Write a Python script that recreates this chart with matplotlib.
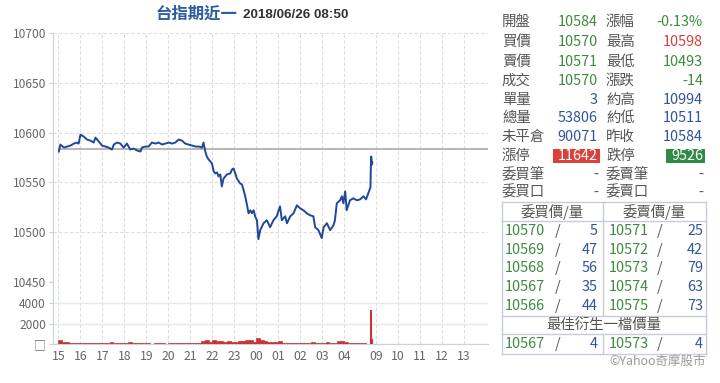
import matplotlib
matplotlib.use("Agg")
import matplotlib.pyplot as plt
from matplotlib.patches import Rectangle

plt.rcParams['font.family'] = ['Noto Sans CJK TC', 'DejaVu Sans']

# ---------------- data ----------------
title_name = "台指期近一"
title_time = "2018/06/26 08:50"
prev_close = 10584

night_times = ["15:01", "15:05", "15:15", "15:24", "15:33", "15:42", "15:51", "15:55", "16:00", "16:09",
               "16:18", "16:27", "16:36", "16:41", "16:50", "16:59", "17:08", "17:17", "17:26", "17:31",
               "17:40", "17:49", "17:58", "18:07", "18:16", "18:25", "18:35", "18:44", "18:48", "18:57",
               "19:06", "19:15", "19:25", "19:34", "19:43", "19:52", "20:01", "20:10", "20:19", "20:28",
               "20:37", "20:46", "20:55", "21:05", "21:14", "21:23", "21:32", "21:36", "21:41", "21:45",
               "21:50", "21:55", "21:59", "22:04", "22:08", "22:13", "22:17", "22:22", "22:26", "22:31",
               "22:40", "22:49", "22:54", "22:58", "23:03", "23:07", "23:16", "23:21", "23:25", "23:30",
               "23:35", "23:39", "23:44", "23:48", "23:53", "23:57", "00:02", "00:06", "00:11", "00:20",
               "00:29", "00:38", "00:47", "00:56", "01:05", "01:10", "01:19", "01:24", "01:33", "01:42",
               "01:51", "02:00", "02:09", "02:18", "02:27", "02:36", "02:41", "02:50", "02:59", "03:04",
               "03:13", "03:22", "03:31", "03:35", "03:40", "03:49", "03:54", "03:58", "04:03", "04:07",
               "04:16", "04:25", "04:35", "04:44", "04:53", "05:00"]
night_prices = [10581, 10588, 10585, 10586, 10587, 10589, 10590, 10589, 10598, 10596,
                10593, 10592, 10590, 10595, 10591, 10587, 10586, 10585, 10583, 10588,
                10590, 10589, 10585, 10589, 10583, 10584, 10582, 10581, 10585, 10586,
                10586, 10590, 10589, 10590, 10588, 10589, 10590, 10589, 10590, 10593,
                10592, 10589, 10588, 10587, 10586, 10586, 10585, 10590, 10581, 10576,
                10573, 10571, 10569, 10561, 10559, 10560, 10556, 10558, 10546, 10554,
                10558, 10559, 10563, 10564, 10559, 10554, 10549, 10548, 10543, 10536,
                10527, 10519, 10522, 10519, 10522, 10516, 10512, 10493, 10502, 10509,
                10512, 10505, 10512, 10516, 10526, 10512, 10516, 10509, 10516, 10519,
                10527, 10524, 10522, 10519, 10517, 10516, 10505, 10502, 10494, 10505,
                10509, 10502, 10507, 10512, 10529, 10532, 10536, 10529, 10541, 10522,
                10532, 10534, 10532, 10533, 10536, 10533]
day_times = ["08:45", "08:46", "08:47", "08:48", "08:49", "08:50"]
day_prices = [10545, 10565, 10576, 10572, 10568, 10570]

# volume: night session in 10-minute buckets (15:00 .. 04:50), day session per minute
night_vol = [400, 200, 150, 100, 100, 100,
             100, 100, 100, 100, 100, 100,
             100, 100, 150, 100, 100, 100,
             100, 150, 100, 100, 100, 80,
             80, 0, 100, 80, 100, 0,
             100, 80, 100, 100, 80, 100,
             100, 100, 100, 250, 350, 200,
             400, 300, 250, 200, 250, 150,
             200, 250, 300, 400, 350, 200,
             600, 350, 250, 200, 150, 200,
             250, 100, 100, 100, 100, 100,
             100, 100, 100, 150, 100, 100,
             100, 150, 100, 100, 250, 300,
             150, 100, 80, 100, 80, 100]
day_vol_times = ["08:45", "08:46", "08:47", "08:48", "08:49"]
day_vol = [3300, 900, 500, 300, 200]

x_tick_labels = ["15", "16", "17", "18", "19", "20", "21", "22", "23", "00", "01", "02", "03", "04",
                 "09", "10", "11", "12", "13"]
price_ticks = [10450, 10500, 10550, 10600, 10650, 10700]
vol_ticks = [0, 2000, 4000]
vol_tick_labels = ["□", "2000", "4000"]

info_rows = [("開盤", "10584", "g", "漲幅", "-0.13%", "g"),
             ("買價", "10570", "g", "最高", "10598", "r"),
             ("賣價", "10571", "g", "最低", "10493", "g"),
             ("成交", "10570", "g", "漲跌", "-14", "g"),
             ("單量", "3", "b", "約高", "10994", "b"),
             ("總量", "53806", "b", "約低", "10511", "b"),
             ("未平倉", "90071", "b", "昨收", "10584", "b"),
             ("漲停", "11642", "R", "跌停", "9526", "G"),
             ("委買筆", "-", "k", "委賣筆", "-", "k"),
             ("委買口", "-", "k", "委賣口", "-", "k")]
bid_prices = ["10570", "10569", "10568", "10567", "10566"]
bid_qty = ["5", "47", "56", "35", "44"]
ask_prices = ["10571", "10572", "10573", "10574", "10575"]
ask_qty = ["25", "42", "79", "63", "73"]
best_bid = ("10567", "4")
best_ask = ("10573", "4")

# ---------------- helpers ----------------
GAP = 0.2


def tpos(s, day=False):
    h, m = map(int, s.split(":"))
    t = h + m / 60.0
    if day:
        return 14 + GAP + (t - 8.75)
    if t < 15:
        t += 24
    return t - 15


W, H = 720, 383
fig = plt.figure(figsize=(7.2, 3.83), dpi=100)
fig.patch.set_facecolor("white")


def P(x, y):
    return x / W, 1 - y / H


GREEN = "#3f8a3f"
RED = "#d0433f"
BLUE = "#34549a"
LGRAY = "#555555"
GRIDC = "#dcdcdc"
SPINEC = "#c9d3de"
LINEC = "#21479a"

XL = (-0.25, 19.55)
night_x = [tpos(t) for t in night_times]
day_x = [tpos(t, True) for t in day_times]
tick_x = [float(i) for i in range(14)] + [tpos(f"{h:02d}:00", True) for h in (9, 10, 11, 12, 13)]

# ---------------- price pane ----------------
ax = fig.add_axes([53 / W, 1 - 282 / H, 435 / W, 249 / H])
ax.set_xlim(*XL)
ax.set_ylim(10450, 10700)
for s in ("top", "right", "bottom"):
    ax.spines[s].set_visible(False)
ax.spines["left"].set_color(SPINEC)
ax.set_yticks(price_ticks)
ax.set_yticklabels([str(v) for v in price_ticks])
ax.tick_params(axis="y", length=3, color=SPINEC, pad=2, labelsize=8.6, labelcolor="#666666")
ax.set_xticks(tick_x)
ax.tick_params(axis="x", length=0, labelbottom=False)
ax.grid(True, color=GRIDC, linestyle=(0, (3, 2)), linewidth=0.8)
ax.hlines(prev_close, 0, XL[1], color="#a9a9a9", linewidth=1.2, zorder=2)
ax.plot(night_x + day_x, night_prices + day_prices, color=LINEC, linewidth=1.4, zorder=3)

# ---------------- volume pane ----------------
axv = fig.add_axes([53 / W, 1 - 344 / H, 435 / W, 62 / H])
axv.set_xlim(*XL)
axv.set_ylim(0, 6050)
for s in ("top", "right"):
    axv.spines[s].set_visible(False)
axv.spines["left"].set_color(SPINEC)
axv.spines["bottom"].set_color(SPINEC)
axv.spines["bottom"].set_zorder(1)
axv.set_yticks(vol_ticks)
axv.set_yticklabels(vol_tick_labels)
axv.tick_params(axis="y", length=3, color=SPINEC, pad=2, labelsize=8.6, labelcolor="#666666")
axv.set_xticks(tick_x)
axv.set_xticklabels(x_tick_labels)
axv.tick_params(axis="x", length=0, pad=4, labelsize=8.8, labelcolor="#666666")
axv.xaxis.grid(True, color=GRIDC, linestyle=(0, (3, 2)), linewidth=0.8)
axv.yaxis.grid(True, color="#e3e8ee", linestyle="-", linewidth=1.0)
axv.set_axisbelow(True)
night_vx = [i / 6.0 for i in range(len(night_vol))]
axv.bar(night_vx, night_vol, width=1 / 6.0, align="edge", color="#cc3333", edgecolor="#cc3333",
        linewidth=0.5, zorder=4)
day_vx = [tpos(t, True) for t in day_vol_times]
axv.bar(day_vx, day_vol, width=1 / 60.0, align="edge", color="#cc3333", edgecolor="#cc3333",
        linewidth=0.8, zorder=4)

# ---------------- title ----------------
fig.text(*P(237, 14), title_name, ha="right", va="center", fontsize=11.8, fontweight="bold", color="#2f5ba3")
fig.text(*P(243, 15), title_time, ha="left", va="center", fontsize=9.7, fontweight="bold",
         color="#333333", family="Liberation Sans")

# ---------------- info panel ----------------
cmap = {"g": GREEN, "r": RED, "b": BLUE, "k": LGRAY}
row_y = [22, 42, 62, 81, 100, 118, 137, 156, 175, 193]
FS = 10.4
for (l1, v1, c1, l2, v2, c2), y in zip(info_rows, row_y):
    fig.text(*P(502, y), l1, ha="left", va="center", fontsize=FS, color=LGRAY)
    fig.text(*P(606, y), l2, ha="left", va="center", fontsize=FS, color=LGRAY)
    for v, c, xr, box in ((v1, c1, 598, (553, 600)), (v2, c2, 703, (666, 705))):
        if c in ("R", "G"):
            fc = "#d9413c" if c == "R" else "#2f8a45"
            fig.patches.append(Rectangle(P(box[0], y + 7), (box[1] - box[0]) / W, 14 / H,
                                         transform=fig.transFigure, facecolor=fc, edgecolor="none"))
            fig.text(*P(xr, y), v, ha="right", va="center", fontsize=FS, color="white")
        else:
            fig.text(*P(xr, y), v, ha="right", va="center", fontsize=FS, color=cmap[c])

# order book table
TL, TR, TM = 502, 706, 603
TT, TB = 202, 354
BC = "#c5ced8"


def hline(y, x0=TL, x1=TR):
    fig.add_artist(plt.Line2D([x0 / W, x1 / W], [1 - y / H, 1 - y / H], color=BC, linewidth=1.0))


def vline(x, y0, y1):
    fig.add_artist(plt.Line2D([x / W, x / W], [1 - y0 / H, 1 - y1 / H], color=BC, linewidth=1.0))


hline(TT)
hline(221)
hline(316)
hline(334)
hline(TB)
vline(TL, TT, TB)
vline(TR, TT, TB)
vline(TM, TT, 316)
vline(TM, 334, TB)

fig.text(*P((TL + TM) / 2, 212), "委買價/量", ha="center", va="center", fontsize=FS, color=LGRAY)
fig.text(*P((TM + TR) / 2, 212), "委賣價/量", ha="center", va="center", fontsize=FS, color=LGRAY)
book_y = [231, 250, 268, 287, 306]
for bp, bq, ap, aq, y in zip(bid_prices, bid_qty, ask_prices, ask_qty, book_y):
    fig.text(*P(505, y), bp, ha="left", va="center", fontsize=FS, color=GREEN)
    fig.text(*P(555, y), "/", ha="left", va="center", fontsize=FS, color=LGRAY)
    fig.text(*P(598, y), bq, ha="right", va="center", fontsize=FS, color=BLUE)
    fig.text(*P(609, y), ap, ha="left", va="center", fontsize=FS, color=GREEN)
    fig.text(*P(657, y), "/", ha="left", va="center", fontsize=FS, color=LGRAY)
    fig.text(*P(703, y), aq, ha="right", va="center", fontsize=FS, color=BLUE)

fig.text(*P((TL + TR) / 2, 325), "最佳衍生一檔價量", ha="center", va="center", fontsize=FS, color=LGRAY)
fig.text(*P(505, 344), best_bid[0], ha="left", va="center", fontsize=FS, color=GREEN)
fig.text(*P(555, 344), "/", ha="left", va="center", fontsize=FS, color=LGRAY)
fig.text(*P(598, 344), best_bid[1], ha="right", va="center", fontsize=FS, color=BLUE)
fig.text(*P(609, 344), best_ask[0], ha="left", va="center", fontsize=FS, color=GREEN)
fig.text(*P(657, 344), "/", ha="left", va="center", fontsize=FS, color=LGRAY)
fig.text(*P(703, 344), best_ask[1], ha="right", va="center", fontsize=FS, color=BLUE)

fig.text(*P(706, 361), "©Yahoo奇摩股市", ha="right", va="center", fontsize=9, color="#9a9a9a")

fig.savefig("out.png", dpi=100, facecolor="white")
